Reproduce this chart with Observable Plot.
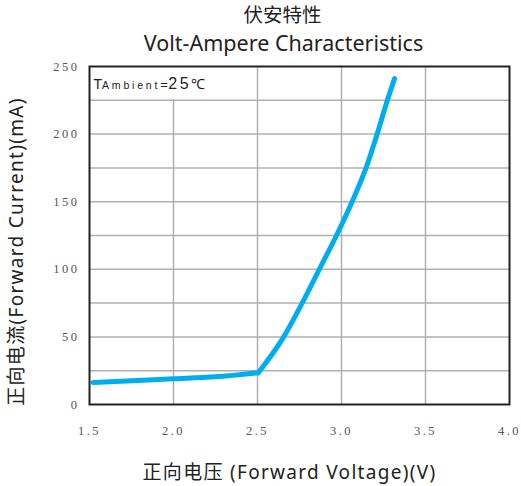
<!DOCTYPE html>
<html>
<head>
<meta charset="utf-8">
<script src="https://cdn.jsdelivr.net/npm/d3@7"></script>
<script src="https://cdn.jsdelivr.net/npm/@observablehq/plot@0.6"></script>
<style>
  html, body { margin: 0; padding: 0; background: #fff; }
  #wrap { width: 521px; font-family: "Noto Sans", "Noto Sans CJK SC", sans-serif; color: #222; }
  .t1 { text-align: center; font-size: 19.5px; line-height: 26px; height: 28px; padding-top: 2px; padding-left: 44px; }
  .t2 { text-align: center; font-size: 21.5px; line-height: 26px; height: 26px; padding-left: 46px; }
  #chart { height: 430px; }
</style>
</head>
<body>
<div id="wrap">
  <div class="t1">伏安特性</div>
  <div class="t2">Volt-Ampere Characteristics</div>
  <div id="chart"></div>
</div>
<script>
// low segment ends at the knee (index 4); high segment starts at the knee
const voltage = [1.521, 1.75, 2.0, 2.25, 2.505, 2.656, 2.766, 2.868, 2.97, 3.063, 3.146, 3.212, 3.273, 3.316];
const current = [16.3, 17.6, 19.0, 20.5, 23.5, 50, 75, 100, 125, 150, 175, 200, 225, 241];
const kneeIndex = 4;
const xTicks = [1.5, 2.0, 2.5, 3.0, 3.5, 4.0];
const xTickLabels = ["1.5", "2.0", "2.5", "3.0", "3.5", "4.0"];
const yTicks = [0, 50, 100, 150, 200, 250];
const yGrid = [25, 50, 75, 100, 125, 150, 175, 200, 225];
const annotationParts = ["T", "Ambient", "=", "25", "℃"];
const xLabel = "正向电压 (Forward Voltage)(V)";
const yLabel = "正向电流(Forward Current)(mA)";

const rows = [];
voltage.forEach((v, i) => {
  if (i <= kneeIndex) rows.push({v: v, c: current[i], seg: "low"});
  if (i >= kneeIndex) rows.push({v: v, c: current[i], seg: "high"});
});

const chart = Plot.plot({
  width: 521,
  height: 430,
  marginTop: 10,
  marginLeft: 89,
  marginRight: 12,
  marginBottom: 82,
  x: {domain: [1.5, 4.0]},
  y: {domain: [0, 250]},
  style: {background: "#fff", overflow: "visible"},
  marks: [
    Plot.ruleX(xTicks.slice(1, -1), {stroke: "#b0b0b0", strokeWidth: 1.5}),
    Plot.ruleY(yGrid, {stroke: "#b0b0b0", strokeWidth: 1.5}),
    Plot.rect([{x1: 1.5, x2: 2.5, y1: 225, y2: 250}], {x1: "x1", x2: "x2", y1: "y1", y2: "y2", fill: "#fff", inset: 1}),
    Plot.text([annotationParts.join("")], {x: 1.5, y: 237.5, text: d => d, textAnchor: "start", dx: 4, dy: 1, fontSize: 13, fill: "#222", fontFamily: "Liberation Sans, Arial, sans-serif"}),
    Plot.line(rows, {x: "v", y: "c", z: "seg", stroke: "#00aeef", strokeWidth: 5, curve: "monotone-x"}),
    Plot.frame({stroke: "#222", strokeWidth: 2}),
    Plot.axisX(xTicks, {
      tickSize: 0, tickPadding: 22, tickFormat: (d, i) => xTickLabels[i],
      fontSize: 12.5, fontFamily: "Liberation Serif, serif", fill: "#555",
      label: xLabel, labelAnchor: "center", labelOffset: 74, labelArrow: "none"
    }),
    Plot.axisY(yTicks, {
      tickSize: 0, tickPadding: 10, fontSize: 12.5, fontFamily: "Liberation Serif, serif", fill: "#555",
      label: yLabel, labelAnchor: "center", labelOffset: 80, labelArrow: "none"
    })
  ]
});

document.getElementById("chart").appendChild(chart);

try {
  const xl = chart.querySelector("g[aria-label='x-axis label'] text");
  const yl = chart.querySelector("g[aria-label='y-axis label'] text");
  [xl, yl].forEach(t => {
    if (!t) return;
    t.setAttribute("font-size", "19");
    t.setAttribute("fill", "#222");
    t.style.fontFamily = "'Noto Sans', 'Noto Sans CJK SC', sans-serif";
    t.style.letterSpacing = "1.3px";
  });
  if (xl) xl.setAttribute("dx", "-10");
  if (yl) yl.setAttribute("dx", "-16");
  chart.querySelectorAll("g[aria-label='x-axis tick label'] text, g[aria-label='y-axis tick label'] text").forEach(t => {
    t.style.letterSpacing = "2.5px";
  });
  const at = chart.querySelector("g[aria-label='text'] text");
  if (at) {
    at.textContent = "";
    const styles = [
      {size: 14, ls: 0},
      {size: 10.5, ls: 2.8},
      {size: 13, ls: 0.5},
      {size: 16, ls: 2.5},
      {size: 14, ls: 0}
    ];
    annotationParts.forEach((p, k) => {
      const ts = document.createElementNS("http://www.w3.org/2000/svg", "tspan");
      ts.textContent = p;
      ts.setAttribute("font-size", String(styles[k].size));
      ts.style.letterSpacing = styles[k].ls + "px";
      at.appendChild(ts);
    });
  }
} catch (e) { console.error(e); }
</script>
</body>
</html>
